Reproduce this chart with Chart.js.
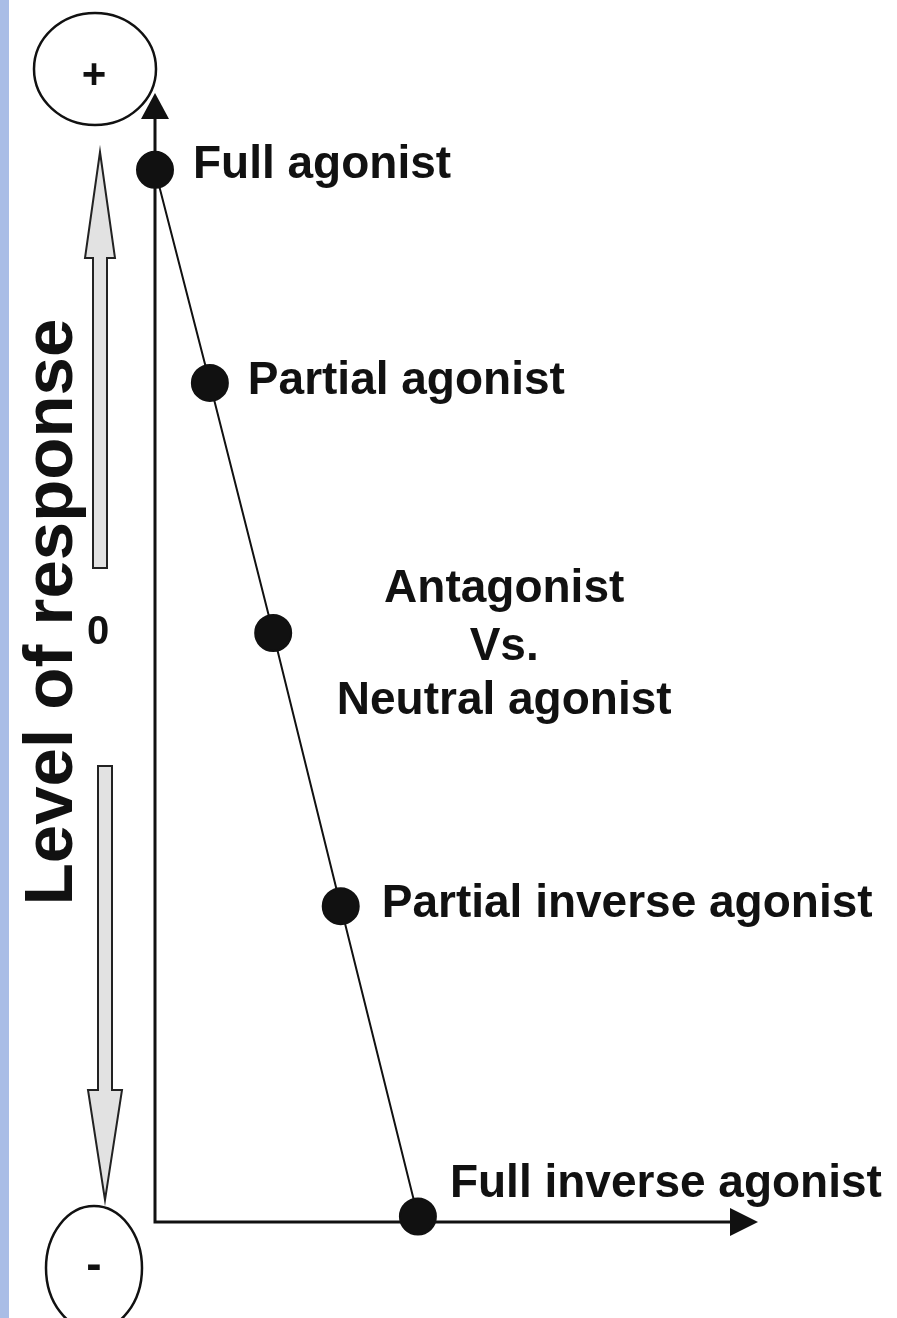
<!DOCTYPE html>
<html><head><meta charset="utf-8">
<script src="https://cdn.jsdelivr.net/npm/chart.js@4"></script>
<style>
html,body{margin:0;padding:0;background:#fff;overflow:hidden}
#wrap{position:relative;width:897px;height:1318px;background:#fff}
#strip{position:absolute;left:0;top:0;width:9px;height:1318px;background:#a9bde6}
canvas{position:absolute;left:0;top:0}
</style></head>
<body><div id="wrap"><canvas id="c" width="897" height="1318"></canvas><div id="strip"></div></div>
<script>
// ---- data ----
const categories = ['Full agonist', 'Partial agonist', 'Antagonist', 'Partial inverse agonist', 'Full inverse agonist'];
const activityX = [0, 0.91, 1.96, 3.08, 4.36];
const responseY = [1, 0.54, 0, -0.59, -1.26];
const xRange = [0, 10];
const yRange = [-1.272, 1.166];
const axisTitle = 'Level of response';
const zeroLabel = '0';
const poleLabels = ['+', '-'];
const middleLabelLines = ['Antagonist', 'Vs.', 'Neutral agonist'];

const FONT = '"Liberation Sans", Arial, Helvetica, sans-serif';
const INK = '#111';

function arrowHead(ctx, tipX, tipY, dx, dy, len, half) {
  const bx = tipX - dx * len, by = tipY - dy * len;
  const px = -dy, py = dx;
  ctx.beginPath();
  ctx.moveTo(tipX, tipY);
  ctx.lineTo(bx + px * half, by + py * half);
  ctx.lineTo(bx - px * half, by - py * half);
  ctx.closePath();
  ctx.fill();
}

function hollowArrow(ctx, cx, tailY, baseY, tipY, shaftHalf, headHalf) {
  ctx.beginPath();
  ctx.moveTo(cx - shaftHalf, tailY);
  ctx.lineTo(cx - shaftHalf, baseY);
  ctx.lineTo(cx - headHalf, baseY);
  ctx.lineTo(cx, tipY);
  ctx.lineTo(cx + headHalf, baseY);
  ctx.lineTo(cx + shaftHalf, baseY);
  ctx.lineTo(cx + shaftHalf, tailY);
  ctx.closePath();
  ctx.fillStyle = '#e2e2e2';
  ctx.fill();
  ctx.strokeStyle = '#222';
  ctx.lineWidth = 2;
  ctx.stroke();
}

const decor = {
  id: 'decor',
  beforeDatasetsDraw(chart) {
    const ctx = chart.ctx;
    const xs = chart.scales.x, ys = chart.scales.y;
    const x0 = xs.getPixelForValue(xRange[0]);
    const y0 = ys.getPixelForValue(yRange[0]);
    const yTop = ys.getPixelForValue(yRange[1]);
    const xEnd = xs.getPixelForValue(xRange[1]);
    ctx.save();
    ctx.strokeStyle = INK; ctx.fillStyle = INK; ctx.lineWidth = 3;
    ctx.beginPath();
    ctx.moveTo(x0, y0 + 1.5); ctx.lineTo(x0, yTop + 20);
    ctx.moveTo(x0 - 1.5, y0); ctx.lineTo(xEnd - 20, y0);
    ctx.stroke();
    arrowHead(ctx, x0, yTop, 0, -1, 26, 14);
    arrowHead(ctx, xEnd, y0, 1, 0, 28, 14);

    // hollow direction arrows
    hollowArrow(ctx, 100, 568, 258, 152, 7, 15);
    hollowArrow(ctx, 105, 766, 1090, 1200, 7, 17);

    // pole circles
    ctx.strokeStyle = INK; ctx.lineWidth = 2.5;
    ctx.beginPath(); ctx.ellipse(95, 69, 61, 56, 0, 0, Math.PI * 2); ctx.stroke();
    ctx.beginPath(); ctx.ellipse(94, 1268, 48, 62, 0, 0, Math.PI * 2); ctx.stroke();
    ctx.fillStyle = INK;
    ctx.textAlign = 'center'; ctx.textBaseline = 'middle';
    ctx.font = 'bold 42px ' + FONT;
    ctx.fillText(poleLabels[0], 94, 76);
    ctx.font = 'bold 46px ' + FONT;
    ctx.fillText(poleLabels[1], 94, 1266);

    // zero label
    ctx.font = 'bold 40px ' + FONT;
    ctx.fillText(zeroLabel, 98, 633);

    // axis title
    ctx.save();
    ctx.translate(72, 612);
    ctx.rotate(-Math.PI / 2);
    ctx.textAlign = 'center'; ctx.textBaseline = 'alphabetic';
    ctx.font = 'bold 69px ' + FONT;
    ctx.fillText(axisTitle, 0, 0);
    ctx.restore();
    ctx.restore();
  },
  afterDraw(chart) {
    const ctx = chart.ctx;
    const meta = chart.getDatasetMeta(0);
    const offsets = [[38, -5], [38, -2], null, [41, -2], [32, -32]];
    ctx.save();
    ctx.fillStyle = INK;
    ctx.font = 'bold 46px ' + FONT;
    ctx.textBaseline = 'middle';
    meta.data.forEach((pt, i) => {
      if (offsets[i]) {
        ctx.textAlign = 'left';
        ctx.fillText(categories[i], pt.x + offsets[i][0], pt.y + offsets[i][1]);
      } else {
        ctx.textAlign = 'center';
        const cx = pt.x + 231;
        const ys = [-44, 14, 68];
        middleLabelLines.forEach((ln, k) => ctx.fillText(ln, cx, pt.y + ys[k]));
      }
    });
    ctx.restore();
  }
};

new Chart(document.getElementById('c'), {
  type: 'scatter',
  data: {
    datasets: [{
      data: activityX.map((x, i) => ({ x, y: responseY[i] })),
      showLine: true,
      borderColor: INK,
      borderWidth: 2,
      backgroundColor: INK,
      pointBackgroundColor: INK,
      pointBorderColor: INK,
      pointRadius: 18,
      pointHoverRadius: 18,
      clip: false,
      tension: 0
    }]
  },
  options: {
    responsive: false,
    animation: false,
    devicePixelRatio: 1,
    layout: { padding: { left: 155, right: 139, top: 93, bottom: 96 } },
    plugins: { legend: { display: false }, tooltip: { enabled: false } },
    events: [],
    scales: {
      x: { type: 'linear', display: false, min: xRange[0], max: xRange[1] },
      y: { type: 'linear', display: false, min: yRange[0], max: yRange[1] }
    }
  },
  plugins: [decor]
});
</script>
</body></html>
